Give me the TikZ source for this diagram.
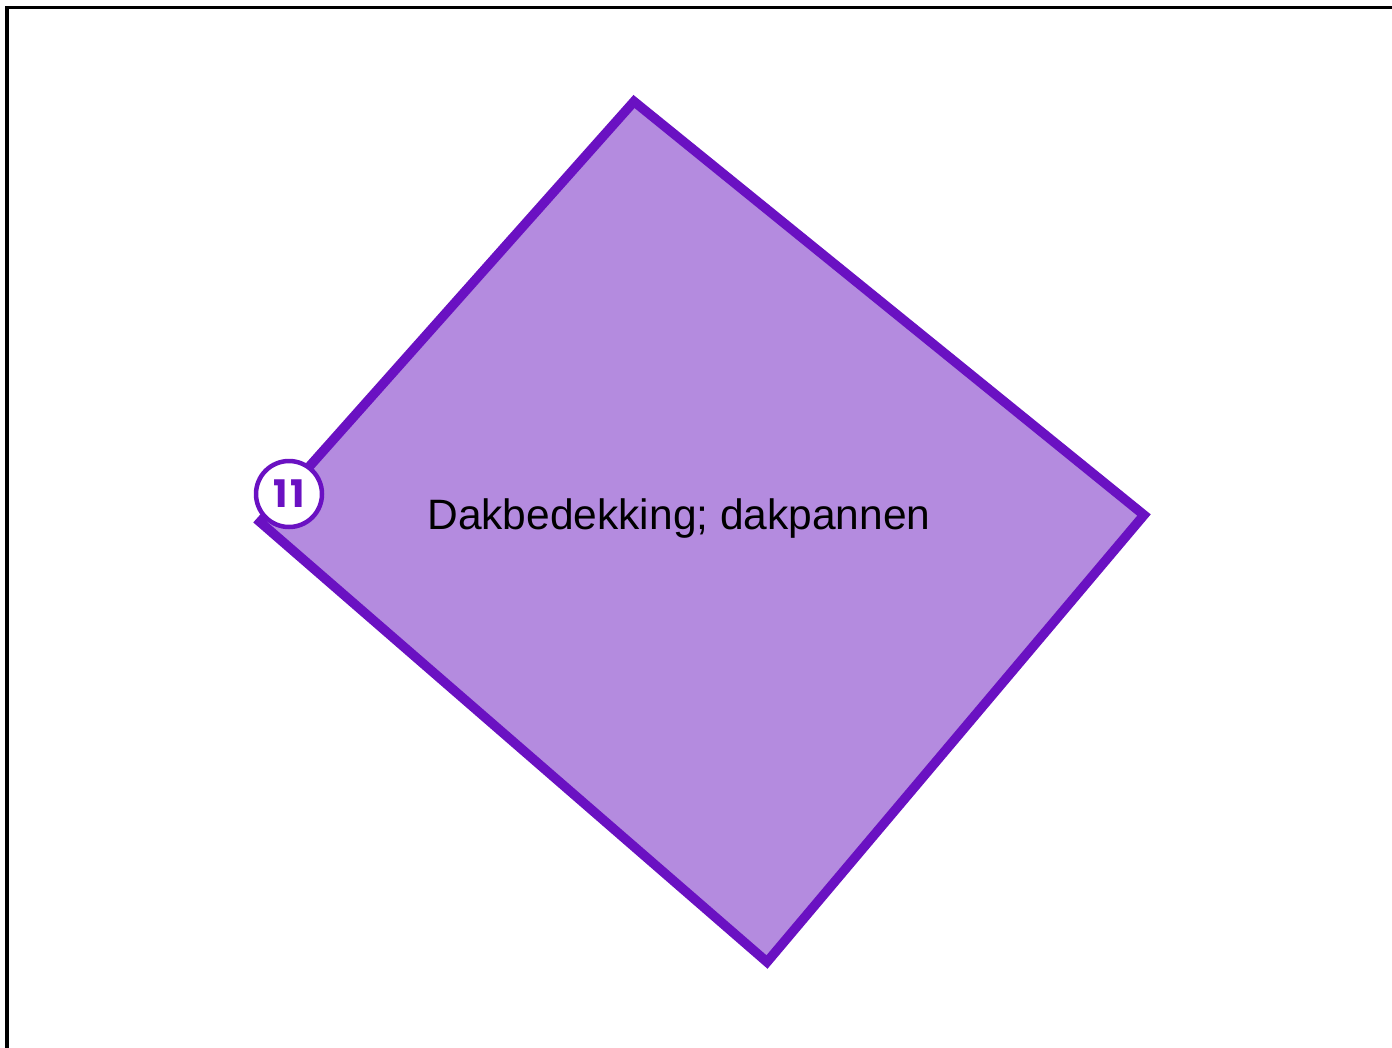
\documentclass[tikz,border=0pt]{standalone}
\usepackage{fontspec}
\setmainfont{Liberation Sans}
\newfontfamily\badgefont[LetterSpace=6]{Poppins}
\definecolor{roofstroke}{HTML}{6A11C2}
\definecolor{rooffill}{HTML}{B48BDF}
\begin{document}
\begin{tikzpicture}[x=1pt,y=-1pt,
  frame/.style={draw=black,line width=3.5pt},
  roof/.style={draw=roofstroke,fill=rooffill,line width=9.5pt,line join=miter},
  badge/.style={circle,draw=roofstroke,fill=white,line width=4.5pt,minimum size=66pt,inner sep=0pt,text=roofstroke,font=\badgefont\bfseries\fontsize{38}{38}\selectfont},
  label/.style={font=\fontsize{42.5}{50}\selectfont,text=black,inner sep=0pt}]
\useasboundingbox (0,0) rectangle (1392,1047);
\draw[frame] (7,1060) -- (7,7.5) -- (1400,7.5);
\coordinate (t) at (634,101.5);
\coordinate (r) at (1144,515);
\coordinate (b) at (767,962);
\coordinate (l) at (260,522);
\draw[roof] (t) -- (r) -- (b) -- (l) -- cycle;
\node[label,anchor=base] (txt) at (679,529) {Dakbedekking; dakpannen};
\node[badge] (num) at (289,494) {11};
\end{tikzpicture}
\end{document}
